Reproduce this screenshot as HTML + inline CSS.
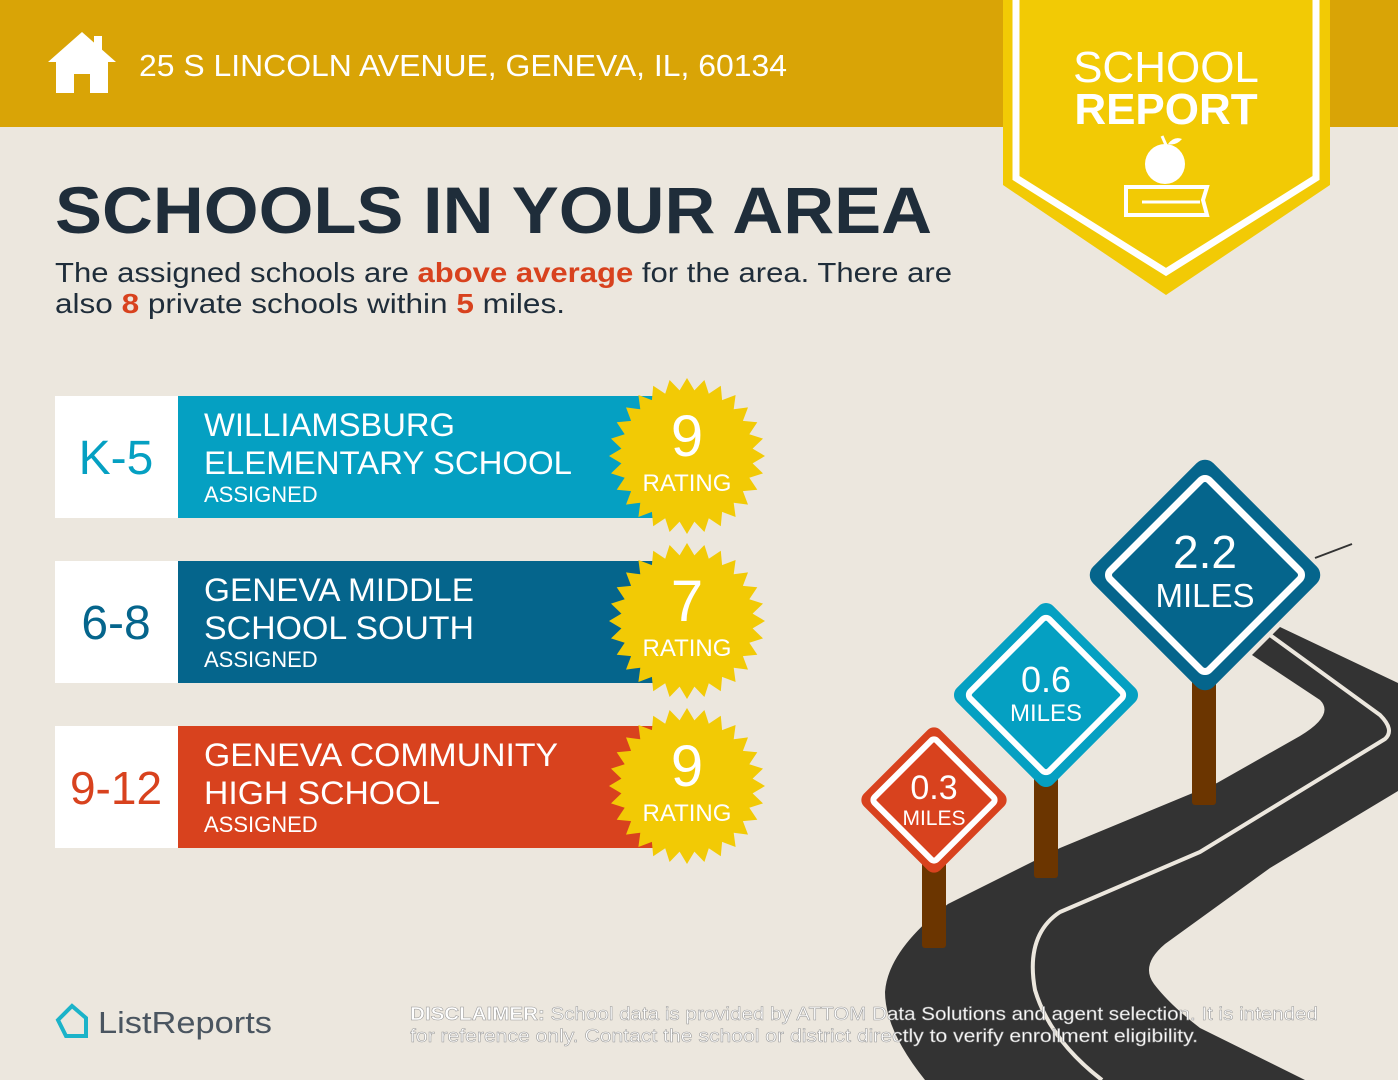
<!DOCTYPE html>
<html><head><meta charset="utf-8"><style>
body{margin:0;width:1398px;height:1080px;overflow:hidden;background:#ECE7DE;font-family:"Liberation Sans",sans-serif;}
svg{position:absolute;left:0;top:0}
</style></head><body>
<svg id="s" width="1398" height="1080" viewBox="0 0 1398 1080">
<rect x="0" y="0" width="1398" height="127" fill="#D9A406"/>
<path d="M82 32 L48 62 L56 62 L56 93 L74 93 L74 74 L90 74 L90 93 L108 93 L108 62 L116 62 Z" fill="#fff"/>
<rect x="94" y="36" width="8" height="16" fill="#fff"/>
<text x="139" y="76" font-size="31" fill="#fff" textLength="648" lengthAdjust="spacingAndGlyphs">25 S LINCOLN AVENUE, GENEVA, IL, 60134</text>
<path d="M1003 0 L1330 0 L1330 185 L1166 295 L1003 185 Z" fill="#F2CA05"/>
<path d="M1016 0 L1016 178 L1166 272 L1316 178 L1316 0" fill="none" stroke="#fff" stroke-width="7"/>
<text x="1166" y="82" font-size="44" fill="#fff" text-anchor="middle">SCHOOL</text>
<text x="1166" y="124" font-size="44" font-weight="bold" fill="#fff" text-anchor="middle">REPORT</text>
<ellipse cx="1165" cy="164" rx="20" ry="20" fill="#fff"/>
<path d="M1166 145 L1162 136" stroke="#fff" stroke-width="3"/>
<path d="M1168 144 Q1174 136 1182 139 Q1176 146 1168 144Z" fill="#fff"/>
<path d="M1126 187 L1207 187 L1203 200 L1207 215 L1126 215 Z" fill="none" stroke="#fff" stroke-width="4"/>
<line x1="1142" y1="202" x2="1200" y2="202" stroke="#fff" stroke-width="3"/>
<text x="55" y="233" font-size="66" font-weight="bold" fill="#1F2D3A" textLength="877" lengthAdjust="spacingAndGlyphs">SCHOOLS IN YOUR AREA</text>
<text x="55" y="282" font-size="28" fill="#1F2D3A" textLength="897" lengthAdjust="spacingAndGlyphs">The assigned schools are <tspan fill="#D8421E" font-weight="bold">above average</tspan> for the area. There are</text>
<text x="55" y="313" font-size="28" fill="#1F2D3A" textLength="510" lengthAdjust="spacingAndGlyphs">also <tspan fill="#D8421E" font-weight="bold">8</tspan> private schools within <tspan fill="#D8421E" font-weight="bold">5</tspan> miles.</text>
<g id="rows"></g>
<path d="M1280 627 L1398 683 L1398 791 L1270 868 L1165 944 Q1140 965 1154 984 Q1170 1005 1200 1028 L1305 1080 L925 1080 Q885 1030 885 992 Q888 950 948 904 L1060 848 L1217 783 L1300 736 Q1335 715 1320 700 L1252 655 Z" fill="#333"/>
<path d="M1270 635 L1380 715 Q1395 730 1385 739 L1200 852 L1060 912 Q1025 935 1035 990 Q1050 1040 1102 1080" fill="none" stroke="#ECE7DE" stroke-width="4"/>
<line x1="1315" y1="558" x2="1352" y2="544" stroke="#333" stroke-width="2"/>
<rect x="1192" y="660" width="24" height="145" rx="3" fill="#6B3500"/>
<rect x="1034" y="760" width="24" height="118" rx="3" fill="#6B3500"/>
<rect x="922" y="850" width="24" height="98" rx="3" fill="#6B3500"/>
<g transform="translate(1205,575) rotate(45)"><rect x="-85" y="-85" width="170" height="170" rx="12" fill="#05658C"/><rect x="-70" y="-70" width="140" height="140" rx="6" fill="none" stroke="#fff" stroke-width="7"/></g>
<text x="1205" y="568" font-size="46" fill="#fff" text-anchor="middle">2.2</text>
<text x="1205" y="607" font-size="33" fill="#fff" text-anchor="middle">MILES</text>
<g transform="translate(1046,695) rotate(45)"><rect x="-68" y="-68" width="136" height="136" rx="10" fill="#05A0C2"/><rect x="-56" y="-56" width="112" height="112" rx="5" fill="none" stroke="#fff" stroke-width="6"/></g>
<text x="1046" y="692" font-size="36" fill="#fff" text-anchor="middle">0.6</text>
<text x="1046" y="721" font-size="24" fill="#fff" text-anchor="middle">MILES</text>
<g transform="translate(934,800) rotate(45)"><rect x="-54" y="-54" width="108" height="108" rx="9" fill="#D8421E"/><rect x="-44" y="-44" width="88" height="88" rx="4" fill="none" stroke="#fff" stroke-width="6"/></g>
<text x="934" y="799" font-size="34" fill="#fff" text-anchor="middle">0.3</text>
<text x="934" y="825" font-size="21" fill="#fff" text-anchor="middle">MILES</text>
<path d="M58 1020 L72 1006 L86 1018 L86 1036 L66 1036 Z" fill="none" stroke="#1BB3C9" stroke-width="4"/>
<text x="98" y="1033" font-size="31" fill="#4A5560" textLength="174" lengthAdjust="spacingAndGlyphs">ListReports</text>
<text x="410" y="1020" font-size="18" fill="#fff" stroke="#999" stroke-width="0.5" textLength="908" lengthAdjust="spacingAndGlyphs"><tspan font-weight="bold">DISCLAIMER:</tspan> School data is provided by ATTOM Data Solutions and agent selection. It is intended</text>
<text x="410" y="1042" font-size="18" fill="#fff" stroke="#999" stroke-width="0.5" textLength="788" lengthAdjust="spacingAndGlyphs">for reference only. Contact the school or district directly to verify enrollment eligibility.</text>
</svg>
<script>
var rows=[["K-5","#05A0C2","WILLIAMSBURG","ELEMENTARY SCHOOL","9",396,251,368],["6-8","#05658C","GENEVA MIDDLE","SCHOOL SOUTH","7",561,270,270],["9-12","#D8421E","GENEVA COMMUNITY","HIGH SCHOOL","9",726,354,236]];
var h="";
rows.forEach(function(r){var y=r[5];
h+='<rect x="55" y="'+y+'" width="123" height="122" fill="#fff"/>';
h+='<rect x="178" y="'+y+'" width="475" height="122" fill="'+r[1]+'"/>';
h+='<text x="116" y="'+(y+78)+'" font-size="'+(r[0].length>3?46:48)+'" fill="'+r[1]+'" text-anchor="middle">'+r[0]+'</text>';
h+='<text x="204" y="'+(y+40)+'" font-size="32" fill="#fff" textLength="'+r[6]+'" lengthAdjust="spacingAndGlyphs">'+r[2]+'</text>';
h+='<text x="204" y="'+(y+78)+'" font-size="32" fill="#fff" textLength="'+r[7]+'" lengthAdjust="spacingAndGlyphs">'+r[3]+'</text>';
h+='<text x="204" y="'+(y+106)+'" font-size="22" fill="#fff">ASSIGNED</text>';
var cx=687,cy=y+60,n=28,p=[];
for(var i=0;i<2*n;i++){var a=Math.PI*i/n,rad=i%2?66:78;p.push((cx+rad*Math.cos(a)).toFixed(1)+","+(cy+rad*Math.sin(a)).toFixed(1));}
h+='<polygon points="'+p.join(" ")+'" fill="#F2CA05"/>';
h+='<text x="687" y="'+(y+60)+'" font-size="58" fill="#fff" text-anchor="middle">'+r[4]+'</text>';
h+='<text x="687" y="'+(y+95)+'" font-size="24" fill="#fff" text-anchor="middle">RATING</text>';
});
document.getElementById("rows").innerHTML=h;
</script>
</body></html>
